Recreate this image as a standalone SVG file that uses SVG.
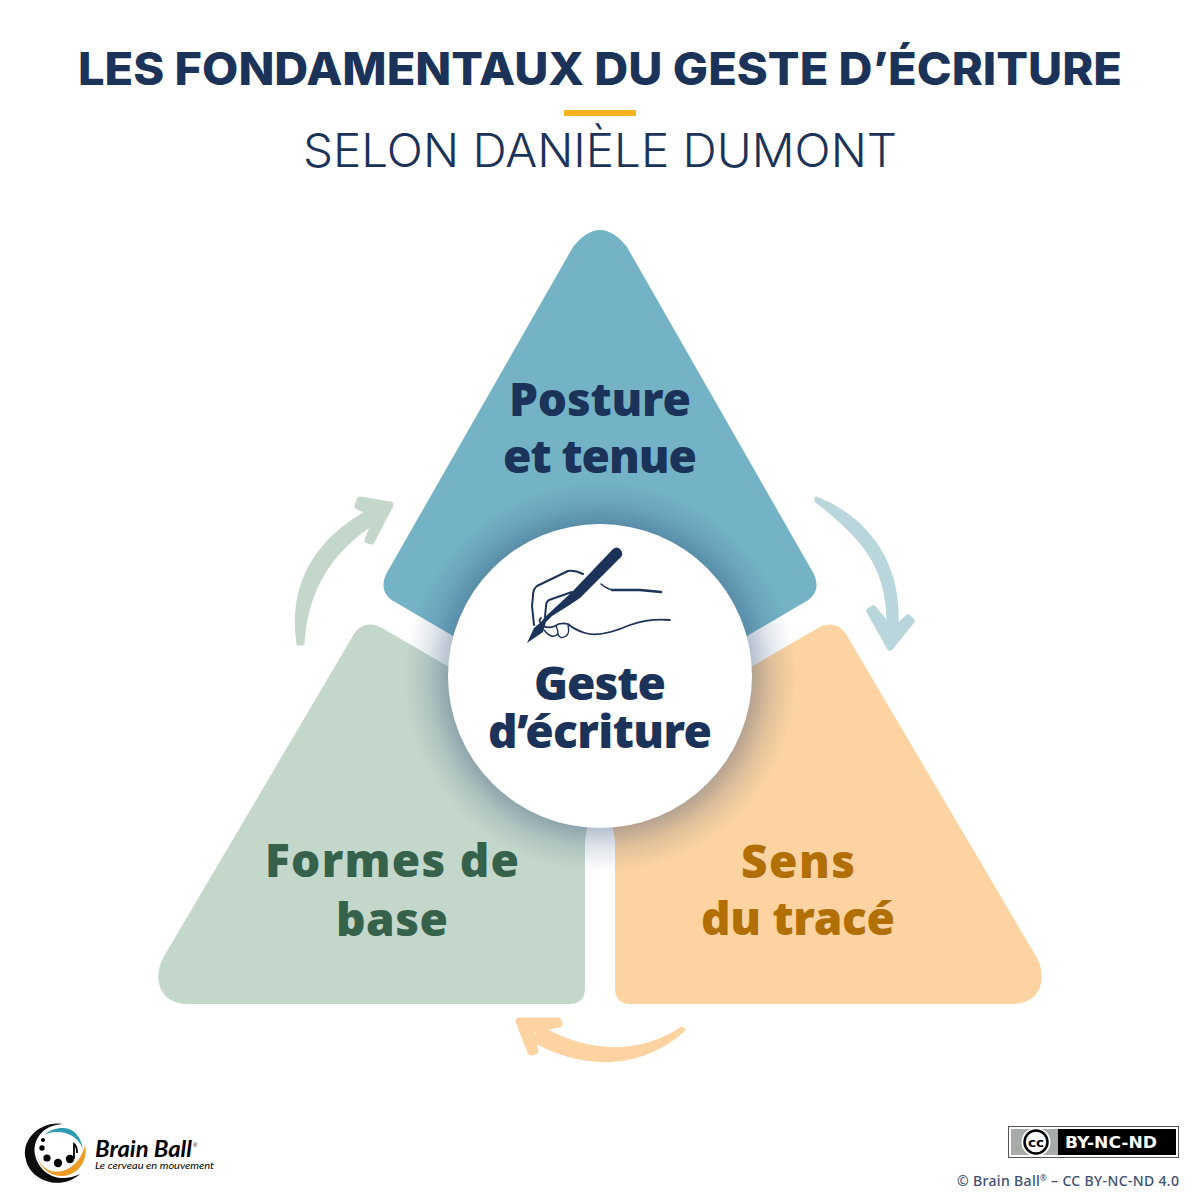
<svg xmlns="http://www.w3.org/2000/svg" width="1200" height="1200" viewBox="0 0 1200 1200">
<style>
.title{font-family:"Inter","Liberation Sans",sans-serif;text-anchor:middle}
.lab{font-family:"Noto Sans","Open Sans",sans-serif;font-weight:900;font-size:46px;text-anchor:middle}
.navy{fill:#1c3359}
.ln{fill:none;stroke:#1c3359;stroke-linecap:round;stroke-linejoin:round}
</style>
<defs>
<radialGradient id="sh" gradientUnits="userSpaceOnUse" cx="600" cy="676" r="196">
<stop offset="0.77" stop-color="#24406e" stop-opacity="0.34"/>
<stop offset="0.88" stop-color="#24406e" stop-opacity="0.13"/>
<stop offset="1" stop-color="#24406e" stop-opacity="0"/>
</radialGradient>
</defs>
<rect width="1200" height="1200" fill="#fff"/>
<g id="header">
<text class="title navy" x="600" y="85" font-size="45" font-weight="800" textLength="1044" lengthAdjust="spacingAndGlyphs">LES FONDAMENTAUX DU GESTE D’ÉCRITURE</text>
<rect x="564" y="110" width="72" height="6" fill="#f6b221"/>
<text class="title navy" x="600" y="167" font-size="46" font-weight="300" textLength="594" lengthAdjust="spacingAndGlyphs">SELON DANIÈLE DUMONT</text>
</g>
<g id="node-posture">
<path d="M573 247Q600 213 627 247L811 569C820 583 818 595 805 602L600 722L395 602C382 595 380 583 389 569Z" fill="#74b3c6"/>
</g>
<g id="node-formes">
<path d="M585 840V988Q585 1004 569 1004H188C158 1004 153 977 163 958L354 634C360 625 370 621 382 628L600 755Z" fill="#c4d7cb"/>
</g>
<g id="node-sens">
<path d="M615 840V988Q615 1004 631 1004H1012C1042 1004 1047 977 1037 958L846 634C840 625 830 621 818 628L600 755Z" fill="#fcd3a1"/>
</g>
<g id="connectors">
<g fill="#c4d7cb" stroke="#c4d7cb" stroke-width="3" stroke-linejoin="round">
<path d="M298 644C290 590 310 540 378 506L385 516C330 548 306 590 303 644Z"/>
<path d="M360 500L390 505L371 541L368 540L378 515L358 506Z" stroke-width="7"/>
</g>
<g fill="#b9d6dd" stroke="#b9d6dd" stroke-width="3" stroke-linejoin="round">
<path d="M816 498C860 515 900 555 897 625L888 625C889 565 860 535 816 501Z"/>
<path d="M870 611L890 647L911 621L908 618L893 632L873 609Z" stroke-width="7"/>
</g>
<g fill="#fcd3a1" stroke="#fcd3a1" stroke-width="3" stroke-linejoin="round">
<path d="M684 1030C640 1068 585 1070 532 1040L542 1028C590 1055 640 1056 682 1028Z"/>
<path d="M558 1021L519 1021L531 1052L535 1051L530 1030L559 1024Z" stroke-width="7"/>
</g>
</g>
<g id="node-geste">
<circle cx="600" cy="676" r="196" fill="url(#sh)"/>
<circle cx="600" cy="676" r="152" fill="#fff"/>
<g id="hand-icon">
<path class="navy" d="M613 549Q617 546 620 549L622 552Q623 555 621 557L580 598L568 606L552 616L546 622L543 632L527 643L534 628L541 622L545 617L572 592Z"/>
<path class="ln" stroke-width="2" d="M583 574Q575 570 568 571L537 586Q533 589 533 596L532 606L534 625"/>
<path class="ln" stroke-width="2" d="M572 592L549 600Q546 602 546 606L545 617"/>
<path class="ln" stroke-width="1.6" d="M601 584Q608 590 615 590"/>
<path class="ln" stroke-width="2.600" d="M612 590L640 590L661 592"/>
<path class="ln" stroke-width="1.800" d="M670 620Q650 618 630 625Q600 638 585 633Q575 630 568 624Q560 622 555 626Q545 630 541 623Q538 621 541 618"/>
<path class="ln" stroke-width="1.400" d="M544 630Q552 640 558 634Q560 640 566 636Q570 634 568 625M558 634Q558 630 556 626"/>
</g>
<text class="lab navy" x="600" y="700" font-size="44" textLength="132">Geste</text>
<text class="lab navy" x="600" y="748" font-size="44" textLength="224">d’écriture</text>
</g>
<g id="labels">
<text class="lab navy" x="600" y="416" textLength="182">Posture</text>
<text class="lab navy" x="600" y="473" textLength="194">et tenue</text>
<text class="lab" fill="#36624c" x="392" y="877" textLength="254">Formes de</text>
<text class="lab" fill="#36624c" x="392" y="936" textLength="112">base</text>
<text class="lab" fill="#b26f05" x="798" y="878" textLength="114">Sens</text>
<text class="lab" fill="#b26f05" x="798" y="935" textLength="194">du tracé</text>
</g>
<g id="logo">
<path d="M64 1124C40 1120 20 1140 26 1160C30 1180 60 1192 80 1174C60 1184 40 1175 35 1155C32 1138 45 1124 64 1124Z" fill="#0c0c0c"/>
<path d="M45 1134C56 1126 78 1122 83 1149C78 1136 64 1128 45 1134Z" fill="#2f9bb0"/>
<path d="M38 1157C44 1180 78 1176 85 1145C90 1168 66 1184 48 1172C42 1168 39 1163 38 1157Z" fill="#ee9a26"/>
<circle cx="43" cy="1140" r="2"/><circle cx="42" cy="1148" r="2.700"/><circle cx="47" cy="1158" r="3.600"/><circle cx="58" cy="1163" r="4.200"/><circle cx="70" cy="1159" r="4.200"/>
<path d="M74 1159V1144Q77 1146 77 1153" fill="none" stroke="#000" stroke-width="1.800"/>
<text x="95" y="1157" font-family="Lato,'Liberation Sans',sans-serif" font-style="italic" font-weight="700" font-size="23" textLength="97" lengthAdjust="spacingAndGlyphs">Brain Ball</text>
<text x="193" y="1147" font-family="Liberation Sans,sans-serif" font-size="6">®</text>
<text x="95" y="1169" font-family="Lato,'Liberation Sans',sans-serif" font-style="italic" font-size="10" textLength="119" lengthAdjust="spacingAndGlyphs">Le cerveau en mouvement</text>
</g>
<g id="license">
<rect x="1008.500" y="1126.500" width="170" height="31" fill="#fff" stroke="#555"/>
<rect x="1011" y="1129" width="165" height="26" fill="#000"/>
<rect x="1011" y="1129" width="47" height="26" fill="#a8aca8"/>
<circle cx="1036" cy="1142" r="14.500" fill="#fff"/>
<circle cx="1036" cy="1142" r="11.500" fill="#fff" stroke="#000" stroke-width="2.500"/>
<text x="1036" y="1147" font-family="'DejaVu Sans',sans-serif" font-weight="700" font-size="12" text-anchor="middle" textLength="16" lengthAdjust="spacingAndGlyphs">cc</text>
<text x="1065" y="1148" font-family="'DejaVu Sans',sans-serif" font-weight="700" fill="#fff" font-size="15" textLength="92" lengthAdjust="spacingAndGlyphs">BY-NC-ND</text>
<text x="1179" y="1186" text-anchor="end" font-family="'Noto Sans',sans-serif" font-weight="500" font-size="14" fill="#3a4f72" textLength="222">© Brain Ball<tspan font-size="8" dy="-5">®</tspan><tspan dy="5"> – CC BY-NC-ND 4.0</tspan></text>
</g>
</svg>
